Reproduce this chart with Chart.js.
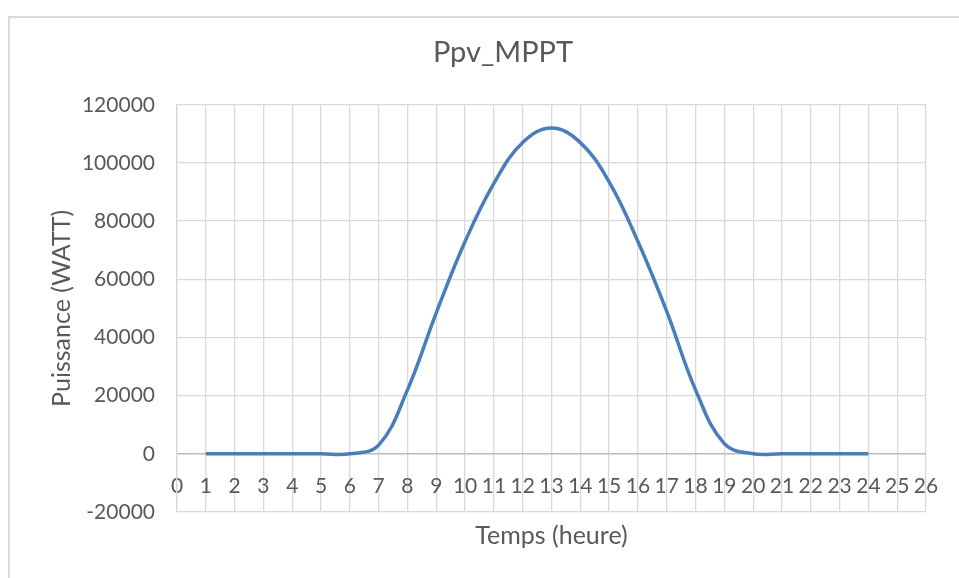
<!DOCTYPE html>
<html>
<head>
<meta charset="utf-8">
<script src="https://cdn.jsdelivr.net/npm/chart.js@4.4.1/dist/chart.umd.min.js"></script>
<style>
  html, body { margin: 0; padding: 0; background: #fff; }
  #frame { position: absolute; left: 8px; top: 16px; width: 960px; height: 580px; border: 2px solid #d9d9d9; }
  #wrap { position: absolute; left: 0; top: 0; width: 959px; height: 578px; }
</style>
</head>
<body>
<div id="frame"></div>
<div id="wrap"><canvas id="chart"></canvas></div>
<script>
// Ppv_MPPT over one day (hours 1..24)
const hours = [1, 2, 3, 4, 5, 6, 7, 8, 9, 10, 11, 12, 13, 14, 15, 16, 17, 18, 19, 20, 21, 22, 23, 24];
const power = [0, 0, 0, 0, 0, 0, 3000, 22000, 48500, 73000, 93000, 107000, 112000, 107000, 93500, 73000, 49000, 22000, 3500, 0, 0, 0, 0, 0];

const chartTitle = 'Ppv_MPPT';
const xTitle = 'Temps (heure)';
const yTitle = 'Puissance (WATT)';

const textColor = '#595959';
const gridColor = '#d9d9d9';
const fontFamily = 'Lato, "Open Sans", sans-serif';

const points = hours.map((h, i) => ({ x: h, y: power[i] }));

const ctx = document.getElementById('chart').getContext('2d');
const chart = new Chart(ctx, {
  type: 'line',
  data: {
    datasets: [
      {
        label: chartTitle,
        data: points,
        borderColor: '#4a7ebb',
        borderWidth: 3.5,
        pointRadius: 0,
        tension: 0.4,
        fill: false
      }
    ]
  },
  options: {
    responsive: true,
    maintainAspectRatio: false,
    animation: false,
    layout: { padding: { left: 47, right: 0, top: 35, bottom: 27 } },
    plugins: {
      legend: { display: false },
      tooltip: { enabled: false },
      title: {
        display: true,
        text: chartTitle,
        color: textColor,
        font: { family: fontFamily, size: 29, weight: 'normal' },
        padding: { top: 0, bottom: 35 }
      }
    },
    scales: {
      x: {
        type: 'linear',
        position: { y: 0 },
        min: 0,
        max: 26,
        ticks: {
          stepSize: 1,
          color: textColor,
          font: { family: fontFamily, size: 21 },
          padding: 20,
          maxRotation: 0,
          autoSkip: false,
          callback: v => String(v)
        },
        grid: { color: gridColor, lineWidth: 1.3, drawTicks: false },
        border: { color: '#bfbfbf', width: 1.5 }
      },
      // empty bottom axis that only carries the x title
      xTitleAxis: {
        type: 'linear',
        axis: 'x',
        position: 'bottom',
        min: 0,
        max: 26,
        ticks: { display: false },
        grid: { display: false },
        border: { display: false },
        title: {
          display: true,
          text: xTitle,
          color: textColor,
          font: { family: fontFamily, size: 25 },
          padding: 0
        },
        afterFit: s => { s.height = 39; }
      },
      y: {
        min: -20000,
        max: 120000,
        ticks: {
          stepSize: 20000,
          color: textColor,
          font: { family: fontFamily, size: 21 },
          padding: 22,
          callback: v => String(v)
        },
        grid: { color: gridColor, lineWidth: 1.3, drawTicks: false },
        border: { color: gridColor, width: 1.3 },
        title: {
          display: true,
          text: yTitle,
          color: textColor,
          font: { family: fontFamily, size: 25 },
          padding: 0
        },
        afterFit: s => { s.width = 130; }
      },
      // empty right axis that keeps the right margin
      yRight: {
        type: 'linear',
        axis: 'y',
        position: 'right',
        min: -20000,
        max: 120000,
        ticks: { display: false },
        grid: { display: false },
        border: { display: false },
        afterFit: s => { s.width = 33; }
      }
    }
  }
});
</script>
</body>
</html>
